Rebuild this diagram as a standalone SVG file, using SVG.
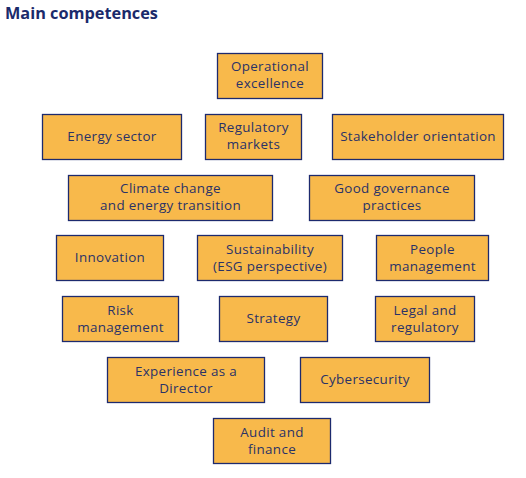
<svg xmlns="http://www.w3.org/2000/svg" width="526" height="478" viewBox="0 0 526 478">
<style>
.b{fill:#f8b94b;stroke:#1d2a6e;stroke-width:1.3}
.t{font-family:"Open Sans","Liberation Sans",sans-serif;font-size:13.4px;fill:#2a3267;text-anchor:middle;letter-spacing:0.35px}
.h{font-family:"Open Sans","Liberation Sans",sans-serif;font-size:16.3px;font-weight:bold;fill:#1b2a6b}
</style>
<rect width="526" height="478" fill="#fff"/>
<text class="h" x="5" y="19">Main competences</text>
<g id="n1"><rect class="b" x="217.5" y="53.5" width="105" height="45"/><text class="t" x="270" y="71">Operational</text><text class="t" x="270" y="88">excellence</text></g>
<g id="n2"><rect class="b" x="42.5" y="114.5" width="139" height="45"/><text class="t" x="112" y="141">Energy sector</text></g>
<g id="n3"><rect class="b" x="205.5" y="114.5" width="96" height="45"/><text class="t" x="253.5" y="132">Regulatory</text><text class="t" x="253.5" y="149">markets</text></g>
<g id="n4"><rect class="b" x="332.5" y="114.5" width="171" height="45"/><text class="t" x="418" y="141">Stakeholder orientation</text></g>
<g id="n5"><rect class="b" x="68.5" y="175.5" width="204" height="45"/><text class="t" x="170.5" y="193">Climate change</text><text class="t" x="170.5" y="210">and energy transition</text></g>
<g id="n6"><rect class="b" x="309.5" y="175.5" width="165" height="45"/><text class="t" x="392" y="193">Good governance</text><text class="t" x="392" y="210">practices</text></g>
<g id="n7"><rect class="b" x="56.5" y="235.5" width="107" height="45"/><text class="t" x="110" y="262">Innovation</text></g>
<g id="n8"><rect class="b" x="197.5" y="235.5" width="145" height="45"/><text class="t" x="270" y="254">Sustainability</text><text class="t" x="270" y="271">(ESG perspective)</text></g>
<g id="n9"><rect class="b" x="376.5" y="235.5" width="112" height="45"/><text class="t" x="432.5" y="254">People</text><text class="t" x="432.5" y="271">management</text></g>
<g id="n10"><rect class="b" x="62.5" y="296.5" width="116" height="45"/><text class="t" x="120.5" y="315">Risk</text><text class="t" x="120.5" y="332">management</text></g>
<g id="n11"><rect class="b" x="219.5" y="296.5" width="108" height="45"/><text class="t" x="273.5" y="323">Strategy</text></g>
<g id="n12"><rect class="b" x="375.5" y="296.5" width="99" height="45"/><text class="t" x="425" y="315">Legal and</text><text class="t" x="425" y="332">regulatory</text></g>
<g id="n13"><rect class="b" x="107.5" y="357.5" width="157" height="45"/><text class="t" x="186" y="376">Experience as a</text><text class="t" x="186" y="393">Director</text></g>
<g id="n14"><rect class="b" x="300.5" y="357.5" width="129" height="45"/><text class="t" x="365" y="384">Cybersecurity</text></g>
<g id="n15"><rect class="b" x="213.5" y="418.5" width="117" height="45"/><text class="t" x="272" y="437">Audit and</text><text class="t" x="272" y="454">finance</text></g>
<g id="connectors"></g>
</svg>
